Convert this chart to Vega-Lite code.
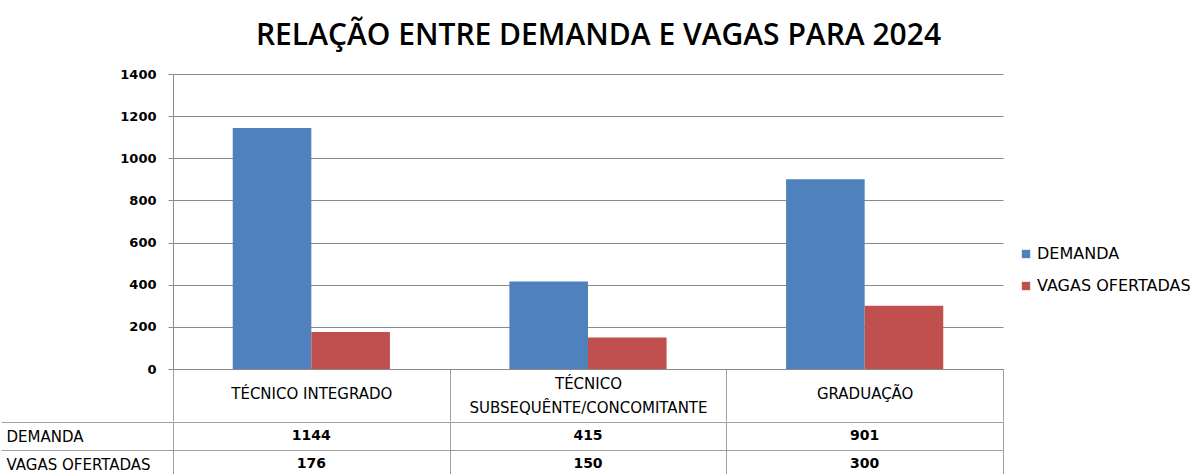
{
  "$schema": "https://vega.github.io/schema/vega-lite/v6.json",
  "background": "white",
  "padding": {"left": 0, "top": 21, "right": 0, "bottom": 0},
  "title": {"text": "RELAÇÃO ENTRE DEMANDA E VAGAS PARA 2024", "font": "Open Sans", "fontSize": 30, "fontWeight": 600, "color": "#000000", "anchor": "middle", "frame": "bounds", "offset": 17, "dx": 3},
  "config": {"view": {"stroke": null}, "font": "DejaVu Sans"},
  "data": {"values": [
    {"categoria": "TÉCNICO INTEGRADO", "serie": "DEMANDA", "valor": 1144},
    {"categoria": "TÉCNICO INTEGRADO", "serie": "VAGAS OFERTADAS", "valor": 176},
    {"categoria": "TÉCNICO SUBSEQUÊNTE/CONCOMITANTE", "serie": "DEMANDA", "valor": 415},
    {"categoria": "TÉCNICO SUBSEQUÊNTE/CONCOMITANTE", "serie": "VAGAS OFERTADAS", "valor": 150},
    {"categoria": "GRADUAÇÃO", "serie": "DEMANDA", "valor": 901},
    {"categoria": "GRADUAÇÃO", "serie": "VAGAS OFERTADAS", "valor": 300}
  ]},
  "spacing": -10,
  "resolve": {"scale": {"x": "independent", "y": "independent"}},
  "vconcat": [
    {
      "width": 830,
      "height": 295,
      "mark": {"type": "bar"},
      "encoding": {
        "x": {
          "field": "categoria", "type": "nominal",
          "sort": ["TÉCNICO INTEGRADO", "TÉCNICO SUBSEQUÊNTE/CONCOMITANTE", "GRADUAÇÃO"],
          "scale": {"paddingInner": 0, "paddingOuter": 0},
          "axis": {
            "title": null, "orient": "bottom", "domain": true, "domainColor": "#8a8a8a",
            "ticks": true, "tickBand": "extent", "tickSize": 52, "tickColor": "#a0a0a0",
            "grid": false, "labelAngle": 0,
            "labelPadding": {"condition": {"test": "datum.value == 'TÉCNICO SUBSEQUÊNTE/CONCOMITANTE'", "value": -38}, "value": -28},
            "labelBaseline": "middle",
            "labelFont": "DejaVu Sans", "labelFontSize": 15, "labelColor": "#000000",
            "labelLimit": 400, "labelLineHeight": 24, "labelOverlap": false, "labelFlush": false,
            "labelExpr": "datum.value == 'TÉCNICO SUBSEQUÊNTE/CONCOMITANTE' ? ['TÉCNICO', 'SUBSEQUÊNTE/CONCOMITANTE'] : datum.value"
          }
        },
        "xOffset": {"field": "serie", "type": "nominal", "sort": ["DEMANDA", "VAGAS OFERTADAS"], "scale": {"paddingInner": 0, "paddingOuter": 0.76}},
        "y": {
          "field": "valor", "type": "quantitative",
          "scale": {"domain": [0, 1400], "nice": false},
          "axis": {
            "title": null, "values": [0, 200, 400, 600, 800, 1000, 1200, 1400], "format": "d",
            "grid": true, "gridColor": "#8a8a8a", "domainColor": "#8a8a8a", "tickColor": "#8a8a8a",
            "tickSize": 5, "labelPadding": 12, "labelFont": "DejaVu Sans", "labelFontWeight": "bold",
            "labelFontSize": 13, "labelColor": "#000000"
          }
        },
        "color": {
          "field": "serie", "type": "nominal",
          "scale": {"domain": ["DEMANDA", "VAGAS OFERTADAS"], "range": ["#4F81BD", "#C0504D"]},
          "legend": {
            "title": null, "orient": "none", "legendX": 845, "legendY": 172,
            "symbolType": "square", "symbolSize": 70, "symbolStrokeWidth": 0,
            "labelFont": "DejaVu Sans", "labelFontSize": 16, "labelColor": "#000000",
            "labelLimit": 400, "rowPadding": 16, "labelOffset": 3
          }
        }
      }
    },
    {
      "width": 830,
      "height": 56,
      "view": {"stroke": "#a0a0a0"},
      "mark": {"type": "text", "font": "DejaVu Sans", "fontWeight": "bold", "fontSize": 14, "color": "#000000"},
      "encoding": {
        "x": {
          "field": "categoria", "type": "nominal",
          "sort": ["TÉCNICO INTEGRADO", "TÉCNICO SUBSEQUÊNTE/CONCOMITANTE", "GRADUAÇÃO"],
          "scale": {"paddingInner": 0, "paddingOuter": 0},
          "axis": {"title": null, "grid": true, "gridColor": "#a0a0a0", "tickBand": "extent", "labels": false, "ticks": false, "domain": false}
        },
        "y": {
          "field": "serie", "type": "nominal", "sort": ["DEMANDA", "VAGAS OFERTADAS"],
          "scale": {"paddingInner": 0, "paddingOuter": 0},
          "axis": {
            "title": null, "grid": true, "gridColor": "#a0a0a0", "tickBand": "extent",
            "ticks": true, "tickSize": 172, "tickColor": "#a0a0a0", "domain": false,
            "labelAlign": "left", "labelPadding": -5, "labelFont": "DejaVu Sans",
            "labelFontSize": 15, "labelColor": "#000000", "labelLimit": 300
          }
        },
        "text": {"field": "valor", "type": "quantitative"}
      }
    }
  ]
}
